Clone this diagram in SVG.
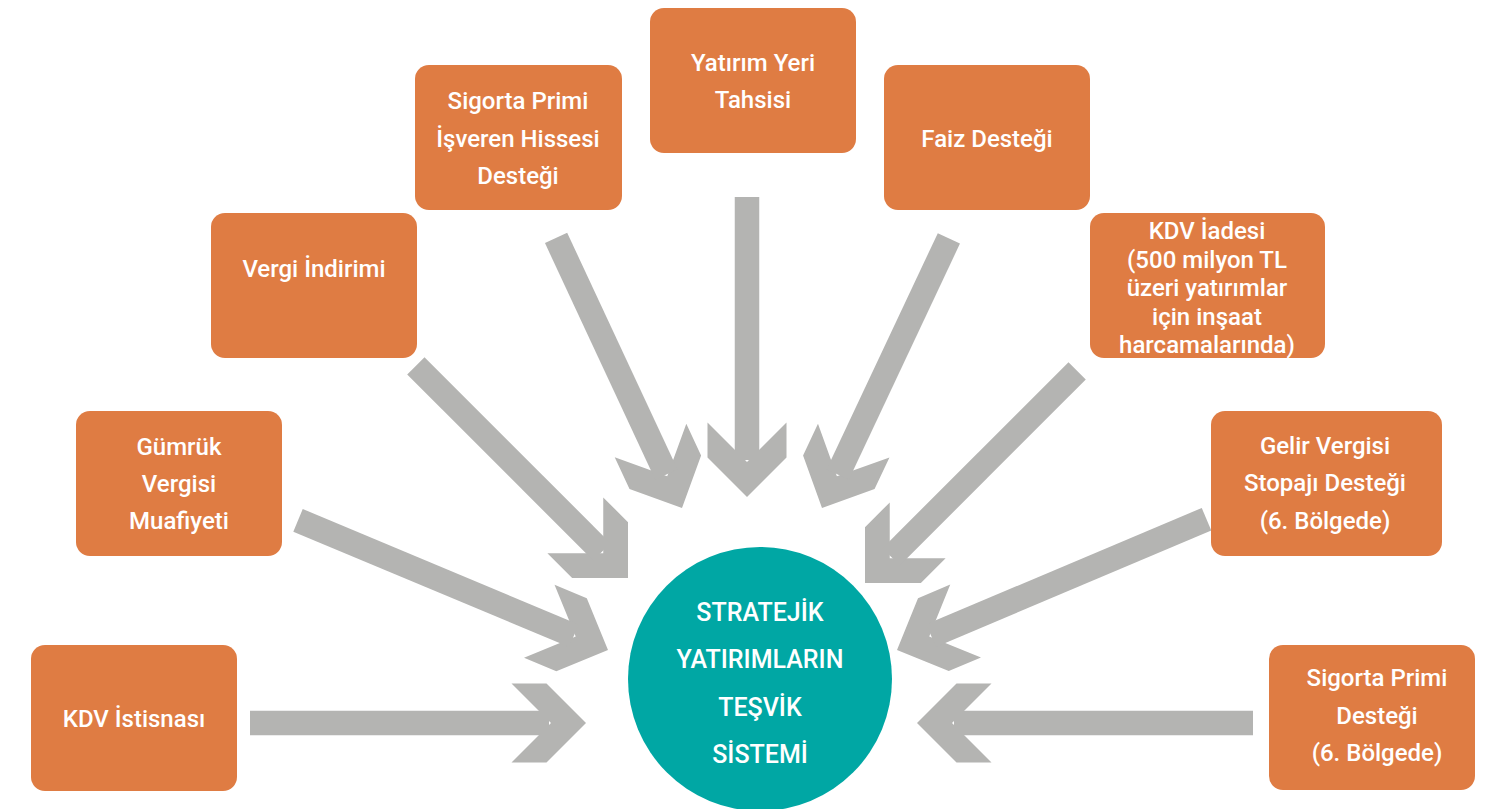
<svg xmlns="http://www.w3.org/2000/svg" xmlns:xlink="http://www.w3.org/1999/xlink" width="1496" height="809" viewBox="0 0 1496 809">
<style>
.box{fill:#DF7C43;}
.t{font-family:Roboto,"Liberation Sans",sans-serif;font-weight:500;font-size:24px;fill:#FFFFFF;text-anchor:middle;}
.c{font-family:Roboto,"Liberation Sans",sans-serif;font-weight:500;font-size:25px;fill:#FFFFFF;text-anchor:middle;}
.arr{fill:#B4B4B2;}
</style>
<defs>
<path id="head" d="M0,0 L-39.5,-39.5 L-74.5,-39.5 L-35,0 L-74.5,39.5 L-39.5,39.5 Z"/>
</defs>
<rect width="1496" height="809" fill="#FFFFFF"/>
<g id="connectors" class="arr">
<g transform="translate(586,723) rotate(0)"><use xlink:href="#head"/><rect x="-336" y="-12.25" width="299" height="24.5"/></g>
<g transform="translate(917,723) rotate(180)"><use xlink:href="#head"/><rect x="-336" y="-12.25" width="299" height="24.5"/></g>
<g transform="translate(608,650) rotate(22.7)"><use xlink:href="#head"/><rect x="-336" y="-12.25" width="299" height="24.5"/></g>
<g transform="translate(628,578) rotate(45)"><use xlink:href="#head"/><rect x="-300" y="-12.25" width="263" height="24.5"/></g>
<g transform="translate(682,508) rotate(65)"><use xlink:href="#head"/><rect x="-298" y="-12.25" width="261" height="24.5"/></g>
<g transform="translate(747,497) rotate(90)"><use xlink:href="#head"/><rect x="-300" y="-12.25" width="263" height="24.5"/></g>
<g transform="translate(822,508) rotate(115.2)"><use xlink:href="#head"/><rect x="-298" y="-12.25" width="261" height="24.5"/></g>
<g transform="translate(865,583) rotate(135)"><use xlink:href="#head"/><rect x="-300" y="-12.25" width="263" height="24.5"/></g>
<g transform="translate(897,650) rotate(157.1)"><use xlink:href="#head"/><rect x="-336" y="-12.25" width="299" height="24.5"/></g>
</g>
<g id="node-kdv-istisnasi">
<rect class="box" x="31" y="645" width="206" height="146" rx="14"/>
<text class="t" x="134" y="727">KDV İstisnası</text>
</g>
<g id="node-gumruk">
<rect class="box" x="76" y="411" width="206" height="145" rx="14"/>
<text class="t" x="179" y="455">Gümrük</text>
<text class="t" x="179" y="492">Vergisi</text>
<text class="t" x="179" y="529">Muafiyeti</text>
</g>
<g id="node-vergi-indirimi">
<rect class="box" x="211" y="213" width="206" height="145" rx="14"/>
<text class="t" x="314" y="277">Vergi İndirimi</text>
</g>
<g id="node-sigorta-isveren">
<rect class="box" x="415" y="65" width="207" height="145" rx="14"/>
<text class="t" x="518" y="109">Sigorta Primi</text>
<text class="t" x="518" y="147">İşveren Hissesi</text>
<text class="t" x="518" y="184">Desteği</text>
</g>
<g id="node-yatirim-yeri">
<rect class="box" x="650" y="8" width="206" height="145" rx="14"/>
<text class="t" x="753" y="71">Yatırım Yeri</text>
<text class="t" x="753" y="108">Tahsisi</text>
</g>
<g id="node-faiz">
<rect class="box" x="884" y="65" width="206" height="145" rx="14"/>
<text class="t" x="987" y="147">Faiz Desteği</text>
</g>
<g id="node-kdv-iadesi">
<rect class="box" x="1090" y="213" width="235" height="145" rx="14"/>
<text class="t" x="1207" y="239">KDV İadesi</text>
<text class="t" x="1207" y="267.5">(500 milyon TL</text>
<text class="t" x="1207" y="296">üzeri yatırımlar</text>
<text class="t" x="1207" y="324.5">için inşaat</text>
<text class="t" x="1207" y="353">harcamalarında)</text>
</g>
<g id="node-gelir-vergisi">
<rect class="box" x="1211" y="411" width="231" height="145" rx="14"/>
<text class="t" x="1325" y="454">Gelir Vergisi</text>
<text class="t" x="1325" y="491">Stopajı Desteği</text>
<text class="t" x="1325" y="529">(6. Bölgede)</text>
</g>
<g id="node-sigorta-6">
<rect class="box" x="1269" y="645" width="206" height="145" rx="14"/>
<text class="t" x="1377" y="686">Sigorta Primi</text>
<text class="t" x="1377" y="724">Desteği</text>
<text class="t" x="1377" y="761">(6. Bölgede)</text>
</g>
<g id="node-center">
<circle cx="760" cy="679" r="132" fill="#00A7A4"/>
<text class="c" x="760" y="621">STRATEJİK</text>
<text class="c" x="760" y="668">YATIRIMLARIN</text>
<text class="c" x="760" y="716">TEŞVİK</text>
<text class="c" x="760" y="763">SİSTEMİ</text>
</g>
</svg>
